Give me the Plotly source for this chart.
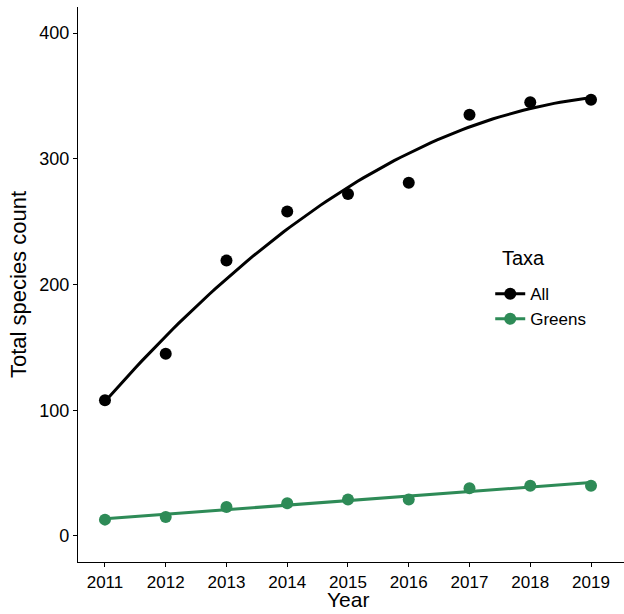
import numpy as np
import plotly.graph_objects as go

years = [2011, 2012, 2013, 2014, 2015, 2016, 2017, 2018, 2019]
all_counts = [108, 145, 219, 258, 272, 281, 335, 345, 347]
greens_counts = [13, 15, 23, 26, 29, 29, 38, 40, 40]
taxa = ["All", "Greens"]
colors = {"All": "#000000", "Greens": "#2E8B57"}

x = np.array(years, dtype=float)
xs = np.linspace(x.min(), x.max(), 80)
fit_all = np.polyval(np.polyfit(x, all_counts, 2), xs)
fit_greens = np.polyval(np.polyfit(x, greens_counts, 1), xs)

fig = go.Figure()
for name, vals, fit in [("All", all_counts, fit_all), ("Greens", greens_counts, fit_greens)]:
    c = colors[name]
    fig.add_trace(go.Scatter(x=xs, y=fit, mode="lines", line=dict(color=c, width=3),
                             showlegend=False, hoverinfo="skip"))
    fig.add_trace(go.Scatter(x=years, y=vals, mode="markers", marker=dict(color=c, size=12),
                             showlegend=False, name=name))
    fig.add_trace(go.Scatter(x=[None], y=[None], mode="lines+markers", name=name,
                             line=dict(color=c, width=3), marker=dict(color=c, size=12)))

axis_common = dict(showline=True, linecolor="black", linewidth=1.2, ticks="outside",
                   ticklen=4, tickcolor="black", tickwidth=1.2, showgrid=False, zeroline=False,
                   title_font=dict(size=22, color="black"))

fig.update_layout(
    width=624, height=614,
    margin=dict(l=78, r=0, t=7, b=52, autoexpand=False),
    plot_bgcolor="white", paper_bgcolor="white",
    font=dict(family="Liberation Sans, Arial, sans-serif", color="black"),
    xaxis=dict(range=[2010.556, 2019.543], tickvals=years, ticktext=[str(y) for y in years],
               tickfont=dict(size=17, color="black"), **axis_common),
    yaxis=dict(range=[-20.7, 420.7], tickvals=[0, 100, 200, 300, 400],
               tickfont=dict(size=18, color="black"),
               title=dict(text="Total species count", standoff=6), **axis_common),
    legend=dict(x=0.755, y=0.515, xanchor="left", yanchor="top", font=dict(size=17),
                itemwidth=30, bgcolor="rgba(0,0,0,0)", tracegroupgap=0),
    annotations=[
        dict(text="Taxa", x=0.773, y=0.548, xref="paper", yref="paper",
             xanchor="left", yanchor="middle", showarrow=False,
             font=dict(size=20, color="black")),
        dict(text="Year", x=2015, y=-0.0919, xref="x", yref="paper",
             xanchor="center", yanchor="bottom", showarrow=False,
             font=dict(size=21, color="black")),
    ],
)

fig.write_html("out.html", config={"displayModeBar": False},
               post_script="document.body.style.margin='0';document.body.style.overflow='hidden';")
